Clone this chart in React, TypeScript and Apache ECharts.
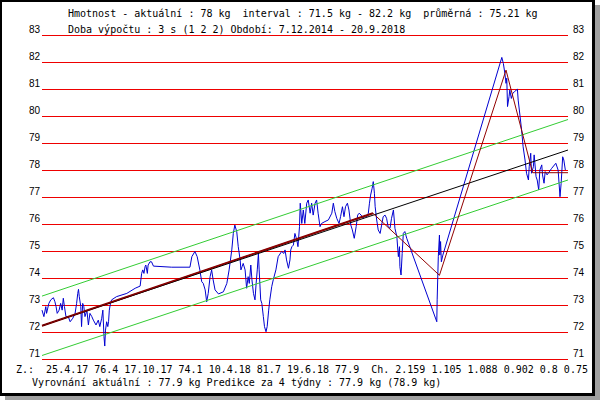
import React, { useEffect, useRef } from "react";
import * as echarts from "echarts";

// Days since 7.12.2014 (period 7.12.2014 - 20.9.2018)
const PERIOD_DAYS = 1383;
const KG_MIN = 71;
const KG_MAX = 83;

const headerLine1 = "Hmotnost - aktuální : 78 kg \u00a0interval : 71.5 kg - 82.2 kg \u00a0průměrná : 75.21 kg";
const headerLine2 = "Doba výpočtu : 3 s (1 2 2) Období: 7.12.2014 - 20.9.2018";
const footerLine1 = "Z.: \u00a025.4.17 76.4 17.10.17 74.1 10.4.18 81.7 19.6.18 77.9 \u00a0Ch. 2.159 1.105 1.088 0.902 0.8 0.75";
const footerLine2 = "Vyrovnání aktuální : 77.9 kg Predikce za 4 týdny : 77.9 kg (78.9 kg)";

// measured weight [day, kg]
const weighings: [number, number][] = [
  [0, 72.81], [5, 72.57], [10, 72.94], [12, 72.69], [18, 73.06], [23, 73.19], [30, 73.27], [34, 73.12],
  [37, 72.94], [40, 72.69], [45, 72.81], [49, 73.06], [53, 72.81], [56, 73.25], [59, 72.94], [63, 72.57],
  [69, 72.57], [74, 72.38], [81, 72.51], [87, 72.69], [91, 73.06], [94, 73.43], [96, 73.58], [98, 73.31],
  [102, 72.94], [104, 72.2], [107, 73.06], [110, 72.94], [113, 72.57], [118, 72.81], [122, 72.26], [126, 72.69],
  [131, 72.57], [135, 72.44], [142, 72.26], [148, 72.44], [152, 72.2], [157, 72.51], [160, 72.81], [163, 71.83],
  [165, 71.48], [167, 72.07], [170, 72.38], [173, 72.2], [175, 72.38], [177, 72.81], [180, 73.06], [183, 73.19],
  [196, 73.31], [223, 73.43], [245, 73.62], [258, 73.7], [262, 74.17], [265, 74.3], [268, 74.17], [271, 74.42],
  [273, 74.48], [277, 74.17], [279, 74.48], [284, 74.6], [288, 74.6], [293, 74.44], [341, 74.4], [389, 74.4],
  [394, 74.79], [402, 74.98], [408, 74.79], [415, 74.3], [420, 73.86], [424, 73.8], [429, 73.56], [433, 73.12],
  [437, 73.43], [442, 74.05], [446, 74.3], [450, 73.93], [455, 73.56], [464, 73.41], [477, 73.49], [486, 73.8],
  [492, 74.3], [499, 75.04], [503, 75.65], [507, 75.96], [512, 75.72], [516, 75.16], [521, 74.67], [523, 74.3],
  [526, 74.42], [529, 74.54], [534, 74.3], [538, 73.62], [542, 74.05], [545, 73.8], [549, 74.48], [552, 73.93],
  [556, 73.43], [560, 73.19], [563, 73.8], [566, 74.3], [569, 74.91], [571, 74.3], [575, 73.19], [578, 73.06],
  [582, 72.57], [585, 72.2], [589, 72.01], [592, 72.2], [596, 72.81], [599, 73.19], [604, 73.68], [608, 73.93],
  [615, 74.3], [621, 74.79], [630, 74.98], [636, 74.91], [639, 75.04], [643, 74.67], [648, 74.36], [652, 74.67],
  [654, 75.04], [657, 75.16], [661, 75.22], [665, 75.65], [670, 75.41], [673, 75.16], [677, 75.9], [679, 76.77],
  [683, 76.02], [687, 76.52], [691, 76.02], [696, 76.77], [700, 76.89], [705, 76.4], [709, 76.77], [713, 76.33],
  [718, 76.77], [722, 76.89], [726, 76.4], [731, 75.9], [735, 76.02], [744, 76.09], [753, 76.15], [762, 76.4],
  [766, 76.77], [770, 76.46], [775, 76.21], [781, 76.02], [785, 76.27], [790, 76.64], [794, 76.27], [798, 76.64],
  [803, 76.77], [807, 76.52], [812, 75.96], [816, 75.78], [821, 75.47], [826, 75.9], [830, 76.33], [834, 76.4],
  [839, 76.33], [845, 76.21], [849, 76.33], [854, 76.27], [858, 76.4], [861, 76.77], [864, 77.07], [868, 77.32],
  [871, 77.57], [874, 77.14], [876, 76.64], [880, 76.15], [884, 75.78], [889, 75.65], [893, 75.96], [897, 76.27],
  [902, 76.33], [906, 76.21], [910, 75.9], [915, 75.84], [919, 76.21], [924, 76.52], [928, 75.84], [933, 75.53],
  [937, 74.79], [940, 75.16], [941, 74.42], [944, 74.11], [947, 74.91], [950, 75.65], [954, 75.72], [959, 75.47],
  [1038, 72.38], [1039, 73.19], [1042, 74.79], [1045, 75.59], [1046, 74.85], [1048, 75.35], [1050, 74.6], [1054, 74.85],
  [1209, 82.17], [1213, 81.95], [1217, 81.58], [1220, 81.21], [1222, 81.4], [1224, 80.35], [1228, 80.72], [1230, 80.96],
  [1234, 80.65], [1238, 80.84], [1242, 80.9], [1250, 80.99], [1252, 80.59], [1257, 79.98], [1261, 79.48], [1265, 78.86],
  [1270, 78.37], [1274, 77.88], [1279, 77.63], [1281, 78.12], [1285, 78.62], [1287, 77.88], [1292, 78.12], [1294, 78.56],
  [1299, 77.75], [1302, 77.63], [1306, 77.26], [1309, 78.0], [1314, 78.19], [1316, 77.82], [1320, 77.51], [1323, 77.94],
  [1328, 77.82], [1340, 78.06], [1351, 78.25], [1357, 78.0], [1362, 77.01], [1365, 77.51], [1369, 78.49], [1372, 78.37],
  [1376, 78.0],
];

// turning points (Z.:)
const zigzagDays = [0, 870, 1045, 1220, 1290, 1383];
const zigzagKg = [72.23, 76.4, 74.1, 81.7, 77.9, 77.9];

// regression line and its band
const trendDays = [0, 1383];
const trendKg = [72.23, 78.74];
const upperKg = [73.33, 79.87];
const lowerKg = [71.13, 77.63];

const zip = (xs: number[], ys: number[]) => xs.map((x, i) => [x, ys[i]]);

const MONO = '10px "DejaVu Sans Mono"';

export default function App() {
  const ref = useRef<HTMLDivElement>(null);

  useEffect(() => {
    document.body.style.margin = "0";
    const chart = echarts.init(ref.current!, null, { renderer: "svg" });
    const axisLabelBase = {
      color: "#000",
      fontFamily: "Liberation Sans",
      fontSize: 10,
      verticalAlign: "bottom" as const,
      lineHeight: 12,
    };
    const line = (name: string, data: any[], color: string, width: number, z: number) => ({
      name,
      type: "line",
      data,
      showSymbol: false,
      symbol: "none",
      silent: true,
      z,
      lineStyle: { color, width },
    });
    chart.setOption({
      animation: false,
      backgroundColor: "transparent",
      grid: { left: 42, right: 32, top: 35, bottom: 41 },
      xAxis: { type: "value", min: 0, max: PERIOD_DAYS, show: false },
      yAxis: [
        {
          type: "value",
          min: KG_MIN,
          max: KG_MAX,
          interval: 1,
          position: "left",
          axisLine: { show: false },
          axisTick: { show: false },
          axisLabel: { ...axisLabelBase, margin: 2 },
          splitLine: { show: true, lineStyle: { color: "#ee0000", width: 1 } },
        },
        {
          type: "value",
          min: KG_MIN,
          max: KG_MAX,
          interval: 1,
          position: "right",
          axisLine: { show: false },
          axisTick: { show: false },
          axisLabel: { ...axisLabelBase, margin: 5 },
          splitLine: { show: false },
        },
      ],
      graphic: [
        { type: "text", x: 68, y: 13, style: { text: headerLine1, font: MONO, fill: "#000", verticalAlign: "middle" } },
        { type: "text", x: 68, y: 29, style: { text: headerLine2, font: MONO, fill: "#000", verticalAlign: "middle" } },
        { type: "text", x: 16, y: 369, style: { text: footerLine1, font: MONO, fill: "#000", verticalAlign: "middle" } },
        { type: "text", x: 32, y: 382, style: { text: footerLine2, font: MONO, fill: "#000", verticalAlign: "middle" } },
      ],
      series: [
        line("weight", weighings, "#0000d0", 1, 2),
        line("upper", zip(trendDays, upperKg), "#33cc33", 1, 3),
        line("lower", zip(trendDays, lowerKg), "#33cc33", 1, 3),
        line("trendThick", zip(zigzagDays.slice(0, 2), zigzagKg.slice(0, 2)), "#800000", 2, 4),
        line("trend", zip(trendDays, trendKg), "#000000", 1, 5),
        line("zigzag", zip(zigzagDays, zigzagKg), "#900000", 1, 6),
      ],
    });
    return () => chart.dispose();
  }, []);

  return (
    <div style={{ position: "absolute", left: 0, top: 0, width: 600, height: 400, background: "#fff" }}>
      <div
        style={{
          position: "absolute",
          left: 0,
          top: 0,
          width: 595,
          height: 396,
          boxSizing: "border-box",
          borderStyle: "solid",
          borderColor: "#000",
          borderWidth: "2px 3px 3px 2px",
          boxShadow: "5px 5px 0 #a0a0a0",
          background: "#fff",
        }}
      />
      <div ref={ref} style={{ position: "absolute", left: 0, top: 0, width: 600, height: 400 }} />
    </div>
  );
}
